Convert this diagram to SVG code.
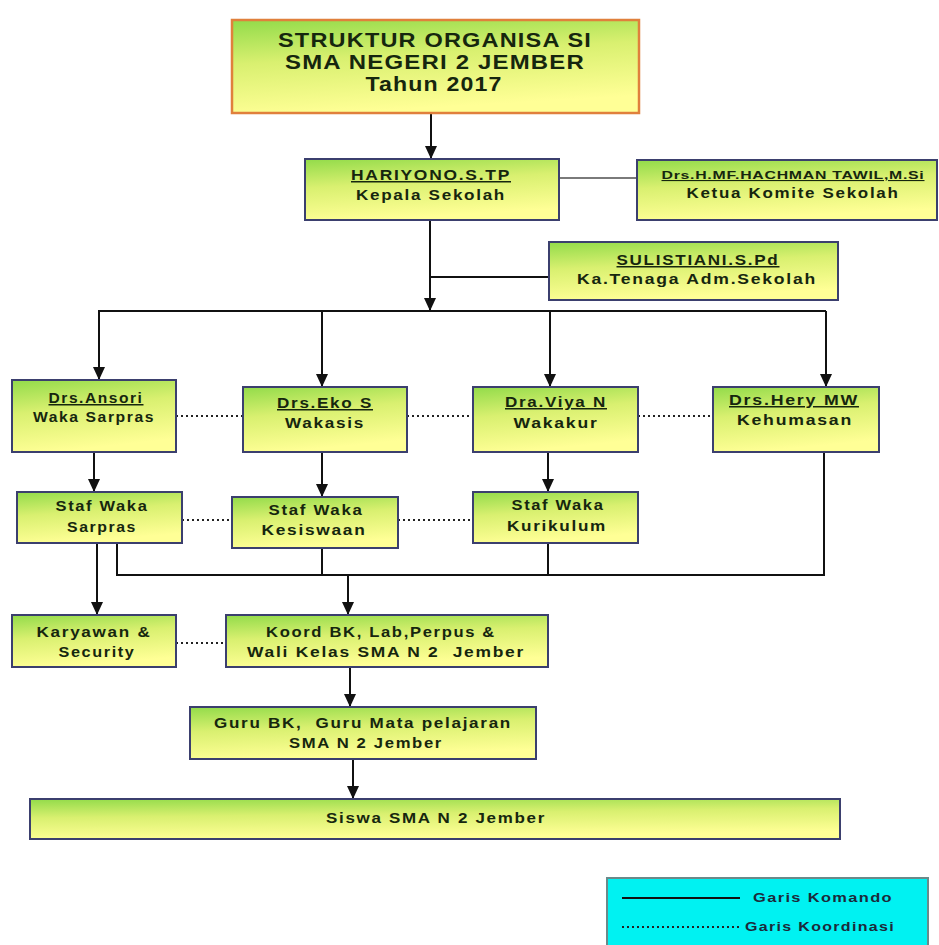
<svg xmlns="http://www.w3.org/2000/svg" width="939" height="945" viewBox="0 0 939 945">
<defs>
<linearGradient id="g" x1="0" y1="0" x2="0.25" y2="1">
<stop offset="0" stop-color="#92db4a"/>
<stop offset="0.45" stop-color="#d9f070"/>
<stop offset="1" stop-color="#ffff96"/>
</linearGradient>
<marker id="arr" markerUnits="userSpaceOnUse" markerWidth="14" markerHeight="12" refX="13" refY="6" orient="auto">
<path d="M0,0 L13,6 L0,12 z" fill="#111"/>
</marker>
<style>
.box{fill:url(#g);stroke:#3b3f6e;stroke-width:2}
.title{fill:url(#g);stroke:#e0803c;stroke-width:2.5}
text{font-family:"Liberation Sans",Arial,sans-serif;font-weight:bold;fill:#16260e;text-anchor:middle;letter-spacing:1.5px}
.t{font-size:15px}
.tt{font-size:20px;letter-spacing:1px}
.u{text-decoration:underline}
.pre{white-space:pre}
.cmd{fill:none;stroke:#111;stroke-width:2}
.arw{fill:none;stroke:#111;stroke-width:2;marker-end:url(#arr)}
.dot{fill:none;stroke:#222;stroke-width:2;stroke-dasharray:2 3}
.gray{fill:none;stroke:#7a7a7a;stroke-width:2}
.lg{font-size:12px;text-anchor:start;fill:#1c2a3a;letter-spacing:1px}
</style>
</defs>
<rect width="939" height="945" fill="#ffffff"/>

<g id="connectors">
<line class="arw" x1="431" y1="113" x2="431" y2="159"/>
<line class="gray" x1="559" y1="178" x2="637" y2="178"/>
<line class="arw" x1="430" y1="220" x2="430" y2="311"/>
<line class="cmd" x1="430" y1="277" x2="549" y2="277"/>
<polyline class="cmd" points="99,380 99,311 826,311"/>
<line class="arw" x1="99" y1="311" x2="99" y2="380"/>
<line class="arw" x1="322" y1="311" x2="322" y2="387"/>
<line class="arw" x1="550" y1="311" x2="550" y2="387"/>
<line class="arw" x1="826" y1="311" x2="826" y2="387"/>
<line class="dot" x1="176" y1="416" x2="243" y2="416"/>
<line class="dot" x1="407" y1="416" x2="473" y2="416"/>
<line class="dot" x1="638" y1="416" x2="713" y2="416"/>
<line class="arw" x1="94" y1="452" x2="94" y2="492"/>
<line class="arw" x1="322" y1="452" x2="322" y2="497"/>
<line class="arw" x1="548" y1="452" x2="548" y2="492"/>
<line class="dot" x1="182" y1="520" x2="232" y2="520"/>
<line class="dot" x1="398" y1="520" x2="473" y2="520"/>
<line class="arw" x1="97" y1="543" x2="97" y2="615"/>
<polyline class="cmd" points="117,543 117,575 824,575 824,452"/>
<line class="cmd" x1="322" y1="548" x2="322" y2="575"/>
<line class="cmd" x1="548" y1="543" x2="548" y2="575"/>
<line class="arw" x1="348" y1="575" x2="348" y2="615"/>
<line class="dot" x1="176" y1="643" x2="226" y2="643"/>
<line class="arw" x1="350" y1="667" x2="350" y2="707"/>
<line class="arw" x1="353" y1="759" x2="353" y2="799"/>
</g>

<g id="title">
<rect class="title" x="232" y="20" width="407" height="93"/>
<text class="tt pre" x="435" y="47" textLength="314" lengthAdjust="spacingAndGlyphs">STRUKTUR ORGANISA SI</text>
<text class="tt" x="435" y="69" textLength="300" lengthAdjust="spacingAndGlyphs">SMA NEGERI 2 JEMBER</text>
<text class="tt" x="434" y="91" textLength="137" lengthAdjust="spacingAndGlyphs">Tahun 2017</text>
</g>

<g id="kepala-sekolah">
<rect class="box" x="305" y="159" width="254" height="61"/>
<text class="t u" x="431" y="180" textLength="160" lengthAdjust="spacingAndGlyphs">HARIYONO.S.TP</text>
<text class="t" x="431" y="200" textLength="150" lengthAdjust="spacingAndGlyphs">Kepala Sekolah</text>
</g>

<g id="ketua-komite">
<rect class="box" x="637" y="160" width="300" height="60"/>
<text class="u" style="font-size:11px;letter-spacing:0.5px" x="793" y="179" textLength="263" lengthAdjust="spacingAndGlyphs">Drs.H.MF.HACHMAN TAWIL,M.Si</text>
<text class="t" x="793" y="198" textLength="213" lengthAdjust="spacingAndGlyphs">Ketua Komite Sekolah</text>
</g>

<g id="ka-tu">
<rect class="box" x="549" y="242" width="289" height="58"/>
<text class="t u" x="698" y="265" textLength="163" lengthAdjust="spacingAndGlyphs">SULISTIANI.S.Pd</text>
<text class="t" x="697" y="284" textLength="240" lengthAdjust="spacingAndGlyphs">Ka.Tenaga Adm.Sekolah</text>
</g>

<g id="waka-sarpras">
<rect class="box" x="12" y="380" width="164" height="72"/>
<text class="t u" x="96" y="403" textLength="95" lengthAdjust="spacingAndGlyphs">Drs.Ansori</text>
<text class="t" x="94" y="422" textLength="122" lengthAdjust="spacingAndGlyphs">Waka Sarpras</text>
</g>

<g id="wakasis">
<rect class="box" x="243" y="387" width="164" height="65"/>
<text class="t u" x="325" y="408" textLength="96" lengthAdjust="spacingAndGlyphs">Drs.Eko S</text>
<text class="t" x="325" y="428" textLength="80" lengthAdjust="spacingAndGlyphs">Wakasis</text>
</g>

<g id="wakakur">
<rect class="box" x="473" y="387" width="165" height="65"/>
<text class="t u" x="556" y="407" textLength="102" lengthAdjust="spacingAndGlyphs">Dra.Viya N</text>
<text class="t" x="556" y="428" textLength="85" lengthAdjust="spacingAndGlyphs">Wakakur</text>
</g>

<g id="kehumasan">
<rect class="box" x="713" y="387" width="166" height="65"/>
<text class="t u" x="794" y="405" textLength="130" lengthAdjust="spacingAndGlyphs">Drs.Hery MW</text>
<text class="t" x="795" y="425" textLength="116" lengthAdjust="spacingAndGlyphs">Kehumasan</text>
</g>

<g id="staf-sarpras">
<rect class="box" x="17" y="492" width="165" height="51"/>
<text class="t" x="102" y="511" textLength="93" lengthAdjust="spacingAndGlyphs">Staf Waka</text>
<text class="t" x="102" y="532" textLength="70" lengthAdjust="spacingAndGlyphs">Sarpras</text>
</g>

<g id="staf-kesiswaan">
<rect class="box" x="232" y="497" width="166" height="51"/>
<text class="t" x="316" y="515" textLength="95" lengthAdjust="spacingAndGlyphs">Staf Waka</text>
<text class="t" x="314" y="535" textLength="105" lengthAdjust="spacingAndGlyphs">Kesiswaan</text>
</g>

<g id="staf-kurikulum">
<rect class="box" x="473" y="492" width="165" height="51"/>
<text class="t" x="558" y="510" textLength="93" lengthAdjust="spacingAndGlyphs">Staf Waka</text>
<text class="t" x="557" y="531" textLength="100" lengthAdjust="spacingAndGlyphs">Kurikulum</text>
</g>

<g id="karyawan">
<rect class="box" x="12" y="615" width="164" height="52"/>
<text class="t" x="94" y="637" textLength="115" lengthAdjust="spacingAndGlyphs">Karyawan &amp;</text>
<text class="t" x="97" y="657" textLength="77" lengthAdjust="spacingAndGlyphs">Security</text>
</g>

<g id="koord">
<rect class="box" x="226" y="615" width="322" height="52"/>
<text class="t" x="381" y="637" textLength="230" lengthAdjust="spacingAndGlyphs">Koord BK, Lab,Perpus &amp;</text>
<text class="t pre" x="386" y="657" textLength="278" lengthAdjust="spacingAndGlyphs">Wali Kelas SMA N 2  Jember</text>
</g>

<g id="guru">
<rect class="box" x="190" y="707" width="346" height="52"/>
<text class="t pre" x="363" y="728" textLength="298" lengthAdjust="spacingAndGlyphs">Guru BK,  Guru Mata pelajaran</text>
<text class="t" x="366" y="748" textLength="154" lengthAdjust="spacingAndGlyphs">SMA N 2 Jember</text>
</g>

<g id="siswa">
<rect class="box" x="30" y="799" width="810" height="40"/>
<text class="t" x="436" y="823" textLength="220" lengthAdjust="spacingAndGlyphs">Siswa SMA N 2 Jember</text>
</g>

<g id="legend">
<rect x="607" y="878" width="321" height="75" fill="#00f2f2" stroke="#6a8a8a" stroke-width="2"/>
<line x1="622" y1="898" x2="740" y2="898" stroke="#111" stroke-width="2"/>
<text class="lg" x="753" y="902" textLength="140" lengthAdjust="spacingAndGlyphs">Garis Komando</text>
<line x1="622" y1="927" x2="742" y2="927" stroke="#222" stroke-width="2" stroke-dasharray="2 3"/>
<text class="lg" x="745" y="931" textLength="150" lengthAdjust="spacingAndGlyphs">Garis Koordinasi</text>
</g>
</svg>
